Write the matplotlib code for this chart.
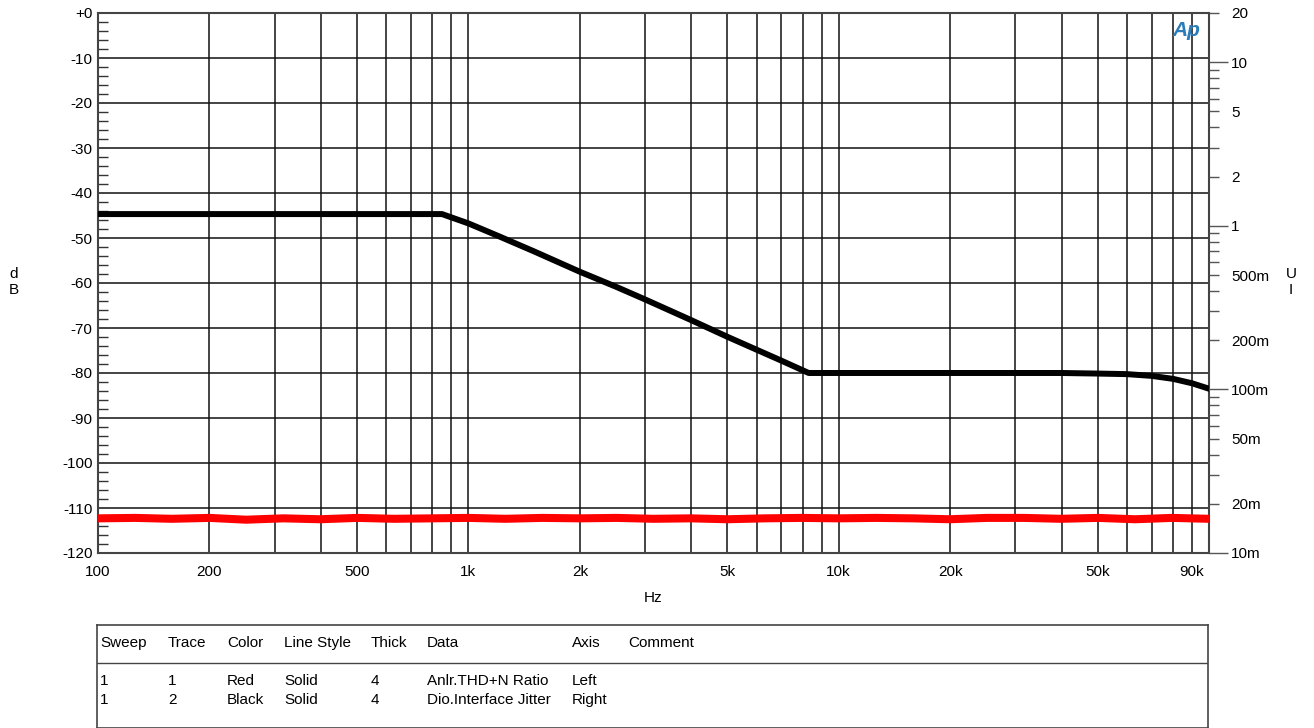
import numpy as np
import matplotlib
matplotlib.use("Agg")
import matplotlib.pyplot as plt
from matplotlib.ticker import FixedLocator, FuncFormatter, NullFormatter

plt.rcParams['font.family'] = ['Liberation Sans', 'DejaVu Sans']
FS = 11

# Anlr.THD+N Ratio (dB, left axis)
thd_freq = [100, 126, 158, 200, 251, 316, 398, 501, 631, 794, 1000, 1259, 1585,
            1995, 2512, 3162, 3981, 5012, 6310, 7943, 10000, 12589, 15849, 19953,
            25119, 31623, 39811, 50119, 63096, 79433, 100000]
thd_db = [-112.3, -112.2, -112.4, -112.2, -112.6, -112.3, -112.5, -112.2, -112.4,
          -112.3, -112.2, -112.4, -112.2, -112.3, -112.2, -112.4, -112.3, -112.5,
          -112.3, -112.2, -112.3, -112.2, -112.3, -112.5, -112.2, -112.2, -112.4,
          -112.2, -112.5, -112.2, -112.4]

# Dio.Interface Jitter (UI, right axis)
jit_freq = [100, 200, 400, 600, 849, 1000, 1200, 1500, 2000, 2500, 3000, 4000, 5000,
            6000, 7000, 8300, 10000, 20000, 40000, 50000, 60000, 70000, 80000, 90000, 100000]
jit_ui = [1.18, 1.18, 1.18, 1.18, 1.18, 1.035, 0.87, 0.70, 0.524, 0.425, 0.355, 0.265,
          0.21, 0.175, 0.15, 0.126, 0.126, 0.126, 0.126, 0.125, 0.124, 0.121, 0.116,
          0.109, 0.101]

x_ticks = [100, 200, 500, 1000, 2000, 5000, 10000, 20000, 50000, 90000]
x_labels = ['100', '200', '500', '1k', '2k', '5k', '10k', '20k', '50k', '90k']
left_ticks = list(range(0, -121, -10))
left_labels = ['+0'] + [str(v) for v in left_ticks[1:]]

fig = plt.figure(figsize=(13.14, 7.28), dpi=100)
ax = fig.add_axes([98 / 1314, 1 - 553 / 728, (1209 - 98) / 1314, 540 / 728])
ax.set_xscale('log')
ax.set_xlim(100, 100000)
ax.set_ylim(-120, 0)

ax.set_xticks(x_ticks)
ax.set_xticklabels(x_labels, fontsize=FS)
minor_x = [m * 10 ** e for e in range(2, 5) for m in range(2, 10)]
ax.xaxis.set_minor_locator(FixedLocator(minor_x))
ax.xaxis.set_minor_formatter(NullFormatter())
ax.tick_params(axis='x', which='both', length=0, pad=9)
ax.grid(True, which='both', axis='x', color='#111111', lw=1.1)

ax.set_yticks(left_ticks)
ax.set_yticklabels(left_labels, fontsize=FS)
ax.yaxis.set_minor_locator(FixedLocator(np.arange(-120, 1, 2)))
ax.tick_params(axis='y', which='major', length=0, pad=4)
ax.tick_params(axis='y', which='minor', direction='in', length=7, width=1.0, color='#333333')
ax.grid(True, which='major', axis='y', color='#111111', lw=1.1)
ax.set_axisbelow(True)

for s in ax.spines.values():
    s.set_color('#444444')
    s.set_linewidth(1.5)

ax.plot(thd_freq, thd_db, color='#ff0000', lw=5.8, solid_capstyle='butt', zorder=3)

ax2 = ax.twinx()
ax2.set_yscale('log')
ax2.set_ylim(0.01, 20)
ax2.set_xlim(100, 100000)


def ui_fmt(v, pos):
    if v >= 1:
        return '%g' % v
    return '%gm' % round(v * 1000)


ax2.yaxis.set_major_locator(FixedLocator([0.01, 0.1, 1, 10]))
ax2.yaxis.set_major_formatter(FuncFormatter(ui_fmt))
minor_y = [m * 10 ** e for e in range(-2, 2) for m in range(2, 10)]
ax2.yaxis.set_minor_locator(FixedLocator(minor_y))
ax2.yaxis.set_minor_formatter(FuncFormatter(
    lambda v, p: ui_fmt(v, p) if round(v / 10 ** np.floor(np.log10(v) + 1e-9)) in (2, 5) else ''))
ax2.tick_params(axis='y', which='major', length=14, width=1.0, pad=2, labelsize=FS, color='#555555')
ax2.tick_params(axis='y', which='minor', length=7, width=1.0, pad=9, labelsize=FS, color='#555555')
for s in ax2.spines.values():
    s.set_visible(False)
ax2.plot(jit_freq, jit_ui, color='black', lw=4.3, zorder=4)

ax.set_xlabel('Hz', fontsize=FS, labelpad=8)
fig.text(14 / 1314, 1 - 282 / 728, 'd\nB', fontsize=FS, ha='center', va='center', linespacing=1.2)
fig.text(1291 / 1314, 1 - 282 / 728, 'U\nI', fontsize=FS, ha='center', va='center', linespacing=1.2)

# AP logo
fig.text(1186 / 1314, 1 - 31 / 728, 'Ap', fontsize=15, color='#2a7db8', style='italic',
         fontweight='bold', ha='center', va='center')

# legend table
tab = fig.add_axes([97 / 1314, 0, (1208 - 97) / 1314, (728 - 625) / 728])
tab.set_xlim(97, 1208)
tab.set_ylim(728, 625)
tab.set_xticks([])
tab.set_yticks([])
for s in tab.spines.values():
    s.set_color('#444444')
    s.set_linewidth(1.2)
tab.axhline(663, color='#444444', lw=1.0)

headers = ['Sweep', 'Trace', 'Color', 'Line Style', 'Thick', 'Data', 'Axis', 'Comment']
col_x = [100, 168, 227, 284, 371, 427, 572, 628]
rows = [['1', '1', 'Red', 'Solid', '4', 'Anlr.THD+N Ratio', 'Left', ''],
        ['1', '2', 'Black', 'Solid', '4', 'Dio.Interface Jitter', 'Right', '']]
for h, cx in zip(headers, col_x):
    tab.text(cx, 643, h, fontsize=FS, va='center', ha='left')
for r, ry in zip(rows, [681, 700]):
    for t, cx in zip(r, col_x):
        tab.text(cx, ry, t, fontsize=FS, va='center', ha='left')

fig.savefig('out.png', dpi=100)
